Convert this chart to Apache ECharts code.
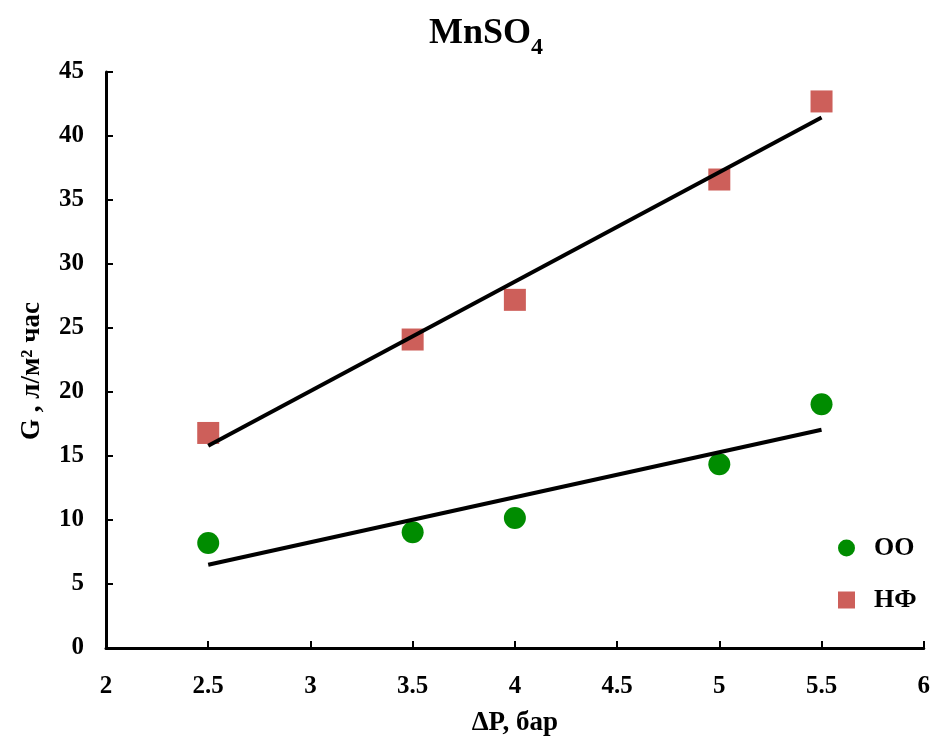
<!DOCTYPE html>
<html>
<head>
<meta charset="utf-8">
<script src="https://cdn.jsdelivr.net/npm/echarts@6/dist/echarts.min.js"></script>
<style>html,body{margin:0;padding:0;background:#fff;overflow:hidden}#c{width:933px;height:742px}</style>
</head>
<body>
<div id="c"></div>
<script>
// Data
const pressure = [2.5, 3.5, 4, 5, 5.5];
const fluxOO = [8.2, 9.05, 10.15, 14.35, 19.05];
const fluxNF = [16.8, 24.1, 27.2, 36.6, 42.7];
const trendX = [2.5, 5.5];
const trendOO = [6.5, 17.05];
const trendNF = [15.8, 41.45];
const seriesNames = ['ОО', 'НФ'];

const font = 'Liberation Serif, Times New Roman, serif';
const chart = echarts.init(document.getElementById('c'), null, {renderer: 'canvas'});
const pairs = (xs, ys) => xs.map((x, i) => [x, ys[i]]);

chart.setOption({
  animation: false,
  backgroundColor: '#fff',
  title: {
    text: '{a|MnSO}{b|4}',
    left: 481, top: 7, textAlign: 'center',
    textStyle: {
      rich: {
        a: {fontFamily: font, fontWeight: 'bold', fontSize: 36, color: '#000', lineHeight: 44},
        b: {fontFamily: font, fontWeight: 'bold', fontSize: 24, color: '#000', lineHeight: 44, verticalAlign: 'bottom', padding: [0, 0, -4, 0]}
      }
    }
  },
  grid: {left: 106, right: 7, top: 72, bottom: 84, containLabel: false},
  legend: {
    data: [{name: seriesNames[0], icon: 'circle'}, {name: seriesNames[1], icon: 'rect'}],
    orient: 'vertical', left: 833, top: 530,
    itemWidth: 17, itemHeight: 17, itemGap: 26,
    textStyle: {fontFamily: font, fontWeight: 'bold', fontSize: 26, color: '#000', padding: [0, 0, 0, 14]}
  },
  xAxis: {
    type: 'value', min: 2, max: 6, interval: 0.5,
    name: 'ΔP, бар', nameLocation: 'middle', nameGap: 62,
    nameTextStyle: {fontFamily: font, fontWeight: 'bold', fontSize: 27, color: '#000'},
    axisLine: {show: true, onZero: false, lineStyle: {color: '#000', width: 3}},
    axisTick: {show: true, inside: true, length: 7, lineStyle: {color: '#000', width: 2}},
    axisLabel: {fontFamily: font, fontWeight: 'bold', fontSize: 25, color: '#000', margin: 26},
    splitLine: {show: false}
  },
  yAxis: {
    type: 'value', min: 0, max: 45, interval: 5,
    name: 'G , л/м² час', nameLocation: 'middle', nameGap: 60,
    nameTextStyle: {fontFamily: font, fontWeight: 'bold', fontSize: 27, color: '#000', padding: [0, 22, 0, 0]},
    axisLine: {show: true, lineStyle: {color: '#000', width: 3}},
    axisTick: {show: true, inside: true, length: 7, lineStyle: {color: '#000', width: 2}},
    axisLabel: {fontFamily: font, fontWeight: 'bold', fontSize: 25, color: '#000', margin: 22},
    splitLine: {show: false}
  },
  series: [
    {
      name: seriesNames[0], type: 'scatter', symbol: 'circle', symbolSize: 22,
      itemStyle: {color: '#008c00', opacity: 1}, data: pairs(pressure, fluxOO), z: 2
    },
    {
      name: seriesNames[1], type: 'scatter', symbol: 'rect', symbolSize: 22,
      itemStyle: {color: '#cd5f5a', opacity: 1}, data: pairs(pressure, fluxNF), z: 2
    },
    {
      name: 'trendOO', type: 'line', showSymbol: false, symbol: 'none',
      lineStyle: {color: '#000', width: 4}, data: pairs(trendX, trendOO), z: 3
    },
    {
      name: 'trendNF', type: 'line', showSymbol: false, symbol: 'none',
      lineStyle: {color: '#000', width: 4}, data: pairs(trendX, trendNF), z: 3
    }
  ]
});
</script>
</body>
</html>
